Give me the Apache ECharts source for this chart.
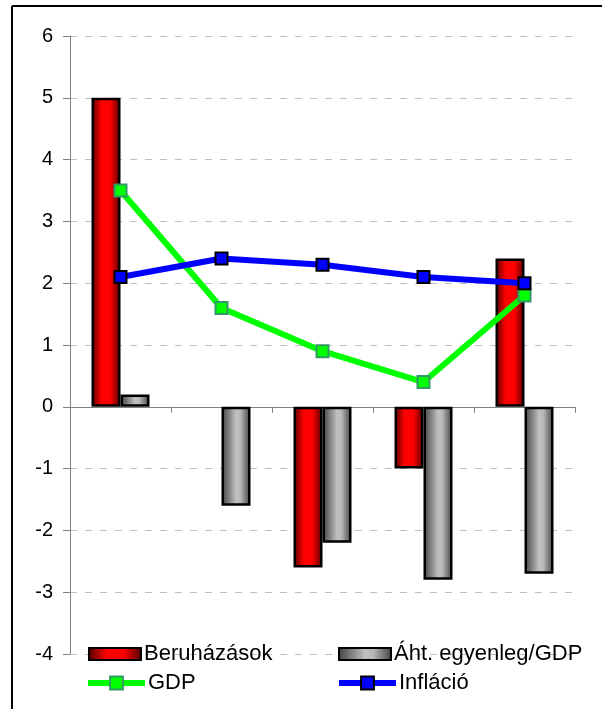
<!DOCTYPE html>
<html>
<head>
<meta charset="utf-8">
<script src="https://cdn.jsdelivr.net/npm/echarts@6/dist/echarts.min.js"></script>
<style>
  html, body { margin: 0; padding: 0; background: #fff; }
  #chart { width: 602px; height: 709px; }
</style>
</head>
<body>
<div id="chart"></div>
<script>
// adatok
const categories = ['1', '2', '3', '4', '5']
const beruhazasok = [5, null, -2.6, -1, 2.4]
const ahtEgyenleg = [0.2, -1.6, -2.2, -2.8, -2.7]
const gdp = [3.5, 1.6, 0.9, 0.4, 1.8]
const inflacio = [2.1, 2.4, 2.3, 2.1, 2.0]

const chart = echarts.init(document.getElementById('chart'))

const redGrad = new echarts.graphic.LinearGradient(0, 0, 1, 0, [
  { offset: 0, color: '#500000' },
  { offset: 0.35, color: '#ff0000' },
  { offset: 0.65, color: '#ff0000' },
  { offset: 1, color: '#500000' }
])
const grayGrad = new echarts.graphic.LinearGradient(0, 0, 1, 0, [
  { offset: 0, color: '#404040' },
  { offset: 0.5, color: '#c0c0c0' },
  { offset: 0.65, color: '#b8b8b8' },
  { offset: 1, color: '#404040' }
])

const font = 'Liberation Sans, Arial, sans-serif'
const legendText = { color: '#000', fontSize: 22, fontFamily: font, padding: [0, 0, 0, -2] }

chart.setOption({
  animation: false,
  graphic: [
    { type: 'line', shape: { x1: 12, y1: 6, x2: 602, y2: 6 }, style: { stroke: '#000', lineWidth: 2 } },
    { type: 'line', shape: { x1: 12, y1: 6, x2: 12, y2: 709 }, style: { stroke: '#000', lineWidth: 2 } }
  ],
  grid: { left: 70, right: 27, top: 36, bottom: 55, containLabel: false },
  legend: [
    { data: [{ name: 'Beruházások', icon: 'rect' }], left: 88, top: 643, padding: 0, itemWidth: 52, itemHeight: 12, textStyle: legendText },
    { data: [{ name: 'Áht. egyenleg/GDP', icon: 'rect' }], left: 338, top: 643, padding: 0, itemWidth: 52, itemHeight: 12, textStyle: legendText },
    { data: [{ name: 'GDP', lineStyle: { width: 6 } }], left: 85, top: 672, padding: 0, itemWidth: 57, itemHeight: 16, textStyle: legendText },
    { data: [{ name: 'Infláció', lineStyle: { width: 6 } }], left: 336, top: 672, padding: 0, itemWidth: 57, itemHeight: 16, textStyle: legendText }
  ],
  xAxis: {
    type: 'category',
    data: categories,
    axisLine: { onZero: true, lineStyle: { color: '#808080', width: 1 } },
    axisTick: { show: true, length: 6, interval: 0, lineStyle: { color: '#808080' } },
    axisLabel: { show: false },
    splitLine: { show: false }
  },
  yAxis: {
    type: 'value',
    min: -4,
    max: 6,
    interval: 1,
    axisLine: { show: true, lineStyle: { color: '#808080', width: 1 } },
    axisTick: { show: true, length: 7, lineStyle: { color: '#808080' } },
    axisLabel: { color: '#000', fontSize: 20, fontFamily: font, margin: 17 },
    splitLine: { show: true, lineStyle: { color: '#c0c0c0', type: [7, 8] } }
  },
  series: [
    {
      name: 'Beruházások',
      type: 'bar',
      data: beruhazasok,
      barWidth: 29,
      barGap: '0%',
      itemStyle: { color: redGrad, borderColor: '#000', borderWidth: 2.5 }
    },
    {
      name: 'Áht. egyenleg/GDP',
      type: 'bar',
      data: ahtEgyenleg,
      barWidth: 29,
      barGap: '0%',
      itemStyle: { color: grayGrad, borderColor: '#000', borderWidth: 2.5 }
    },
    {
      name: 'GDP',
      type: 'line',
      data: gdp,
      symbol: 'rect',
      symbolSize: 12,
      lineStyle: { color: '#00ff00', width: 6 },
      itemStyle: { color: '#00ff00', borderColor: '#339966', borderWidth: 2 }
    },
    {
      name: 'Infláció',
      type: 'line',
      data: inflacio,
      symbol: 'rect',
      symbolSize: 12,
      lineStyle: { color: '#0000ff', width: 6 },
      itemStyle: { color: '#0000ff', borderColor: '#000', borderWidth: 2 }
    }
  ]
})
</script>
</body>
</html>
